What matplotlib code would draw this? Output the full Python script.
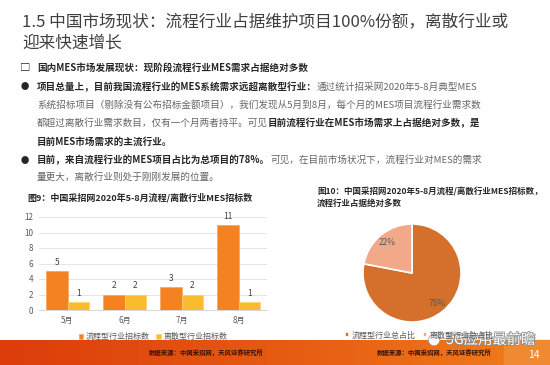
import numpy as np
import matplotlib
matplotlib.use('Agg')
import matplotlib.pyplot as plt
import matplotlib.patheffects as pe
from matplotlib.colors import LinearSegmentedColormap

plt.rcParams['font.family'] = ['Noto Sans CJK SC', 'DejaVu Sans']

# data
months = ['5月', '6月', '7月', '8月']
flow_counts = [5, 2, 3, 11]
discrete_counts = [1, 2, 2, 1]
bar_series = ['流程型行业招标数', '离散型行业招标数']
pie_shares = [78, 22]
pie_labels = ['流程型行业总占比', '离散型行业总占比']

C_FLOW = '#f58220'
C_DISC = '#fbbb2e'
C_PIE = ['#d5702c', '#f2a98a']
DARK = '#262626'
GRAY = '#666666'

fig = plt.figure(figsize=(5.5, 3.65), dpi=100)
bg = fig.add_axes([0, 0, 1, 1])
bg.set_xlim(0, 550)
bg.set_ylim(365, 0)
bg.axis('off')

# page title
bg.text(22, 22, '1.5 中国市场现状：流程行业占据维护项目100%份额，离散行业或',
        fontsize=12, color='#404040', va='center', ha='left')
bg.text(22, 43, '迎来快速增长', fontsize=12, color='#404040', va='center', ha='left')


def rich_line(x, y, parts, size=6.9):
    prev = None
    for txt, bold in parts:
        kw = dict(fontsize=size, color=DARK if bold else GRAY,
                  fontweight='bold' if bold else 'normal', va='center', ha='left')
        if prev is None:
            prev = bg.text(x, y, txt, **kw)
        else:
            prev = bg.annotate(txt, xy=(1, 0.5), xycoords=prev, **kw)


# bullets
bg.text(25, 68, '□', fontsize=7.5, color=DARK, va='center', ha='center', fontweight='bold')
bg.text(25, 87, '●', fontsize=6, color=DARK, va='center', ha='center')
bg.text(25, 160, '●', fontsize=6, color=DARK, va='center', ha='center')
tx = 37
rich_line(tx, 68, [('国内MES市场发展现状：现阶段流程行业MES需求占据绝对多数', True)])
rich_line(tx, 87, [('项目总量上，目前我国流程行业的MES系统需求远超离散型行业：', True),
                   ('通过统计招采网2020年5-8月典型MES', False)])
rich_line(tx, 105, [('系统招标项目（剔除没有公布招标金额项目），我们发现从5月到8月，每个月的MES项目流程行业需求数', False)])
rich_line(tx, 123, [('都超过离散行业需求数目，仅有一个月两者持平。可见', False),
                    ('目前流程行业在MES市场需求上占据绝对多数，是', True)])
rich_line(tx, 142, [('目前MES市场需求的主流行业。', True)])
rich_line(tx, 160, [('目前，来自流程行业的MES项目占比为总项目的78%。', True),
                    ('可见，在目前市场状况下，流程行业对MES的需求', False)])
rich_line(tx, 177, [('量更大，离散行业则处于刚刚发展的位置。', False)])

# figure captions
bg.text(27, 198, '图9：中国采招网2020年5-8月流程/离散行业MES招标数',
        fontsize=6.5, fontweight='bold', color=DARK, va='center')
bg.text(317, 192, '图10：中国采招网2020年5-8月流程/离散行业MES招标数，',
        fontsize=6.1, fontweight='bold', color=DARK, va='center')
bg.text(317, 203, '流程行业占据绝对多数',
        fontsize=6.1, fontweight='bold', color=DARK, va='center')

# footer band
cmap = LinearSegmentedColormap.from_list('band', ['#dc3d0a', '#e65a12', '#f07e1c'])
grad = np.linspace(0, 1, 256).reshape(1, -1)
bg.imshow(grad, cmap=cmap, aspect='auto', extent=(0, 550, 365, 340), zorder=0)
bg.add_patch(plt.Rectangle((504, 340), 46, 25, color='#f08a30', zorder=1))
bg.set_xlim(0, 550)
bg.set_ylim(365, 0)
for fx in (206, 434):
    bg.text(fx, 353, '数据来源：中国采招网，天风证券研究所', fontsize=4.6,
            fontweight='bold', color='#3a1405', ha='center', va='center', zorder=2)
bg.text(534, 355, '14', fontsize=7.5, color='white', ha='center', va='center', zorder=2)

# bar chart
ax = fig.add_axes([39 / 550, 1 - 310 / 365, 228 / 550, 93 / 365])
x = np.arange(len(months))
w = 0.38
b1 = ax.bar(x - w / 2, flow_counts, w, color=C_FLOW, edgecolor='#f9a25a', linewidth=0.5,
            label=bar_series[0], zorder=3)
b2 = ax.bar(x + w / 2, discrete_counts, w, color=C_DISC, edgecolor='#fcd070', linewidth=0.5,
            label=bar_series[1], zorder=3)
for bars in (b1, b2):
    ax.bar_label(bars, padding=3, fontsize=6, color='#404040')
ax.set_xlim(-0.5, len(months) - 0.5)
ax.set_ylim(0, 12)
ax.set_yticks(range(0, 13, 2))
ax.set_xticks(x)
ax.set_xticklabels(months)
ax.tick_params(axis='both', length=0, labelsize=5.8, colors='#595959', pad=4)
ax.grid(axis='y', color='#e0e0e0', linewidth=0.6, zorder=0)
for s in ('top', 'right', 'left'):
    ax.spines[s].set_visible(False)
ax.spines['bottom'].set_color('#d0d0d0')
ax.spines['bottom'].set_linewidth(0.6)
ax.set_facecolor('none')
ax.legend(loc='center', bbox_to_anchor=(0.5, -0.285), ncol=2, frameon=False,
          fontsize=5.8, labelcolor='#595959', handlelength=0.6, handleheight=0.6,
          handletextpad=0.3, columnspacing=0.8)

# pie chart
pax = fig.add_axes([357 / 550, 1 - 328 / 365, 110 / 550, 110 / 365])
wedges, _, autotexts = pax.pie(pie_shares, colors=C_PIE, startangle=90, counterclock=False,
                               radius=0.98, autopct='%d%%', pctdistance=0.8,
                               wedgeprops=dict(edgecolor='white', linewidth=1.2),
                               textprops=dict(fontsize=6, color='#595959'))
pax.set_xlim(-1.1, 1.1)
pax.set_ylim(-1.1, 1.1)
pax.set_aspect('equal')
pax.legend(wedges, pie_labels, loc='center left', bbox_to_anchor=(-0.14, -0.065),
           ncol=2, frameon=False, fontsize=5.8, labelcolor='#595959',
           handlelength=0.5, handleheight=0.5, handletextpad=0.3, columnspacing=1.0,
           borderaxespad=0)

# watermark
bg.text(434, 341, '●', fontsize=8.5, color='white', ha='center', va='center', zorder=5,
        path_effects=[pe.withStroke(linewidth=1, foreground='#9a9a9a')])
bg.text(446, 340, '5G应用最前瞻', fontsize=10.3, color='white', ha='left', va='center', zorder=5,
        path_effects=[pe.withStroke(linewidth=1.2, foreground='#8c8c8c')])

fig.savefig('out.png', dpi=100)
